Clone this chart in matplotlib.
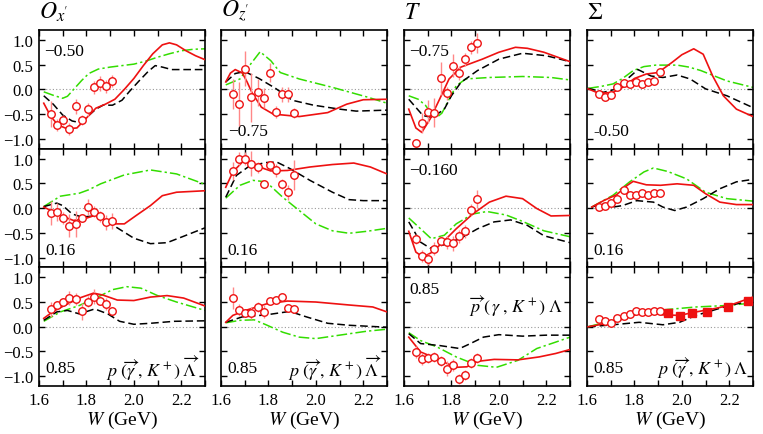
import matplotlib
matplotlib.use("Agg")
import matplotlib.pyplot as plt
import numpy as np

plt.rcParams['font.family'] = 'serif'
plt.rcParams['font.serif'] = ['Liberation Serif', 'DejaVu Serif']
plt.rcParams['mathtext.fontset'] = 'stix'

RED = '#ee1111'
ERR = '#ff8888'
GREEN = '#33dd00'

# photon energies W (GeV) of the measured points
w_a = [1.649, 1.677, 1.703, 1.728, 1.755, 1.780, 1.808, 1.833, 1.857, 1.883, 1.907]
w_sq = [1.943, 1.992, 2.042, 2.108, 2.196, 2.281]

# ---- Ox' ----
ox1_red = [(1.62, -0.28), (1.65, -0.55), (1.68, -0.72), (1.72, -0.80), (1.76, -0.78), (1.80, -0.58),
           (1.84, -0.38), (1.88, -0.30), (1.92, -0.20), (1.96, 0.0), (2.00, 0.22), (2.04, 0.48),
           (2.08, 0.72), (2.12, 0.90), (2.15, 0.94), (2.18, 0.90), (2.22, 0.78), (2.26, 0.68), (2.30, 0.60)]
ox1_blk = [(1.62, -0.13), (1.66, -0.30), (1.70, -0.52), (1.74, -0.64), (1.77, -0.67), (1.80, -0.57),
           (1.84, -0.40), (1.87, -0.32), (1.91, -0.32), (1.95, -0.22), (1.98, -0.05), (2.02, 0.16),
           (2.06, 0.36), (2.09, 0.48), (2.12, 0.45), (2.16, 0.40), (2.30, 0.40)]
ox1_grn = [(1.62, -0.05), (1.66, -0.12), (1.70, -0.18), (1.72, -0.14), (1.75, 0.02), (1.78, 0.18),
           (1.81, 0.32), (1.85, 0.41), (1.90, 0.45), (2.00, 0.51), (2.05, 0.57), (2.10, 0.65),
           (2.15, 0.72), (2.20, 0.78), (2.25, 0.81), (2.30, 0.82)]
ox1_y = [-0.50, -0.72, -0.62, -0.80, -0.34, -0.62, -0.40, 0.04, 0.12, 0.06, 0.17]
ox1_e = [0.27, 0.13, 0.10, 0.12, 0.15, 0.10, 0.13, 0.13, 0.15, 0.13, 0.13]

ox2_red = [(1.62, 0.02), (1.65, -0.05), (1.69, -0.15), (1.745, -0.25), (1.79, -0.22), (1.84, -0.14),
           (1.87, -0.22), (1.91, -0.32), (1.96, -0.32), (2.01, -0.15), (2.07, 0.05), (2.12, 0.25),
           (2.18, 0.32), (2.30, 0.35)]
ox2_blk = [(1.62, 0.03), (1.675, 0.10), (1.70, 0.05), (1.74, -0.12), (1.78, -0.18), (1.84, -0.16),
           (1.87, -0.22), (1.94, -0.43), (2.00, -0.61), (2.07, -0.72), (2.14, -0.70), (2.21, -0.57),
           (2.30, -0.40)]
ox2_grn = [(1.62, 0.03), (1.66, 0.15), (1.69, 0.24), (1.77, 0.30), (1.81, 0.37), (1.86, 0.49),
           (1.96, 0.67), (2.07, 0.77), (2.18, 0.69), (2.30, 0.48)]
ox2_y = [-0.10, -0.08, -0.20, -0.36, -0.32, -0.20, 0.02, -0.07, -0.17, -0.29, -0.26]
ox2_e = [0.25, 0.18, 0.12, 0.23, 0.27, 0.08, 0.17, 0.12, 0.12, 0.15, 0.17]

ox3_red = [(1.62, 0.17), (1.66, 0.31), (1.72, 0.46), (1.77, 0.58), (1.83, 0.68), (1.87, 0.64),
           (1.93, 0.54), (2.00, 0.53), (2.07, 0.60), (2.14, 0.63), (2.21, 0.58), (2.30, 0.42)]
ox3_blk = [(1.62, 0.13), (1.675, 0.30), (1.72, 0.33), (1.77, 0.26), (1.835, 0.36), (1.89, 0.26),
           (1.94, 0.11), (2.00, 0.05), (2.07, 0.07), (2.17, 0.11), (2.30, 0.12)]
ox3_grn = [(1.62, 0.11), (1.69, 0.30), (1.77, 0.43), (1.86, 0.63), (1.91, 0.75), (1.97, 0.81),
           (2.03, 0.78), (2.10, 0.63), (2.18, 0.50), (2.30, 0.33)]
ox3_y = [0.35, 0.43, 0.51, 0.58, 0.56, 0.31, 0.51, 0.61, 0.53, 0.46, 0.31]
ox3_e = [0.15, 0.10, 0.08, 0.15, 0.13, 0.17, 0.12, 0.15, 0.10, 0.13, 0.08]

# ---- Oz' ----
oz1_red = [(1.62, 0.15), (1.64, 0.33), (1.66, 0.40), (1.69, 0.33), (1.71, 0.15), (1.73, -0.06),
           (1.77, -0.36), (1.82, -0.50), (1.93, -0.55), (2.05, -0.47), (2.13, -0.30), (2.20, -0.21),
           (2.30, -0.20)]
oz1_blk = [(1.62, 0.15), (1.66, 0.32), (1.70, 0.36), (1.76, 0.22), (1.83, 0.02), (1.90, -0.22),
           (1.99, -0.32), (2.10, -0.40), (2.17, -0.44), (2.30, -0.42)]
oz1_grn = [(1.62, 0.09), (1.68, 0.21), (1.72, 0.48), (1.765, 0.76), (1.81, 0.58), (1.85, 0.34),
           (1.93, 0.21), (2.07, 0.04), (2.22, -0.16), (2.30, -0.28)]
oz1_y = [-0.10, -0.30, 0.42, -0.16, -0.06, -0.17, 0.34, -0.45, -0.10, -0.10, -0.47]
oz1_e = [0.30, 0.45, 0.35, 0.50, 0.27, 0.20, 0.20, 0.12, 0.15, 0.15, 0.10]

oz2_red = [(1.62, 0.42), (1.65, 0.73), (1.69, 0.93), (1.73, 0.90), (1.78, 0.80), (1.81, 0.75),
           (1.88, 0.76), (1.975, 0.83), (2.07, 0.88), (2.16, 0.91), (2.23, 0.83), (2.30, 0.69)]
oz2_blk = [(1.62, 0.22), (1.665, 0.66), (1.72, 0.85), (1.79, 0.92), (1.835, 0.93), (1.89, 0.80),
           (1.975, 0.56), (2.07, 0.32), (2.14, 0.17), (2.20, 0.15), (2.30, 0.15)]
oz2_grn = [(1.62, 0.20), (1.68, 0.46), (1.735, 0.56), (1.79, 0.53), (1.86, 0.22), (1.93, -0.05),
           (2.00, -0.32), (2.07, -0.46), (2.14, -0.51), (2.215, -0.47), (2.30, -0.41)]
oz2_y = [0.75, 1.00, 1.00, 0.90, 0.82, 0.49, 0.88, 0.76, 0.49, 0.32, 0.67]
oz2_e = [0.18, 0.13, 0.13, 0.25, 0.12, 0.07, 0.08, 0.13, 0.10, 0.15, 0.30]

oz3_red = [(1.62, 0.09), (1.65, 0.23), (1.71, 0.34), (1.79, 0.46), (1.88, 0.52), (2.00, 0.50),
           (2.14, 0.44), (2.24, 0.40), (2.30, 0.30)]
oz3_blk = [(1.62, 0.09), (1.69, 0.20), (1.79, 0.24), (1.89, 0.31), (1.96, 0.20), (2.05, 0.07),
           (2.14, 0.03), (2.30, -0.01)]
oz3_grn = [(1.62, 0.08), (1.68, 0.13), (1.74, 0.14), (1.79, 0.04), (1.86, -0.11), (1.93, -0.21),
           (2.00, -0.24), (2.10, -0.17), (2.215, -0.09), (2.30, -0.05)]
oz3_y = [0.58, 0.33, 0.28, 0.28, 0.40, 0.30, 0.52, 0.55, 0.60, 0.38, 0.35]
oz3_e = [0.22, 0.12, 0.08, 0.12, 0.10, 0.13, 0.07, 0.07, 0.07, 0.07, 0.07]

# ---- T ----
t1_red = [(1.62, -0.40), (1.65, -0.78), (1.675, -0.87), (1.71, -0.60), (1.75, -0.20), (1.79, 0.21),
          (1.84, 0.45), (1.93, 0.61), (2.00, 0.75), (2.07, 0.85), (2.12, 0.83), (2.19, 0.75),
          (2.30, 0.56)]
t1_blk = [(1.62, -0.20), (1.68, -0.53), (1.72, -0.57), (1.77, -0.40), (1.80, -0.13), (1.84, 0.14),
          (1.91, 0.38), (2.00, 0.61), (2.10, 0.73), (2.20, 0.68), (2.30, 0.56)]
t1_grn = [(1.62, -0.13), (1.66, -0.20), (1.69, -0.32), (1.72, -0.52), (1.74, -0.56), (1.76, -0.48),
          (1.79, -0.20), (1.82, 0.07), (1.86, 0.21), (1.96, 0.24), (2.10, 0.26), (2.22, 0.24),
          (2.30, 0.19)]
t1_y = [-1.09, -0.68, -0.45, -0.47, 0.22, -0.08, 0.48, 0.33, 0.61, 0.85, 0.94]
t1_e = [0.08, 0.20, 0.23, 0.30, 0.33, 0.13, 0.23, 0.15, 0.13, 0.13, 0.20]

t2_red = [(1.62, -0.47), (1.65, -0.89), (1.68, -0.99), (1.72, -0.89), (1.77, -0.66), (1.82, -0.42),
          (1.89, -0.12), (1.96, 0.12), (2.03, 0.24), (2.10, 0.19), (2.16, -0.01), (2.22, -0.16),
          (2.30, -0.15)]
t2_blk = [(1.62, -0.28), (1.67, -0.69), (1.71, -0.81), (1.77, -0.74), (1.84, -0.61), (1.91, -0.42),
          (1.98, -0.28), (2.05, -0.24), (2.12, -0.35), (2.19, -0.56), (2.30, -0.70)]
t2_grn = [(1.62, -0.20), (1.67, -0.42), (1.715, -0.62), (1.77, -0.55), (1.82, -0.32), (1.89, -0.12),
          (1.95, -0.07), (2.03, -0.14), (2.10, -0.27), (2.19, -0.46), (2.30, -0.58)]
t2_y = [-0.62, -0.97, -1.04, -0.82, -0.66, -0.69, -0.71, -0.57, -0.47, -0.03, 0.19]
t2_e = [0.10, 0.12, 0.12, 0.13, 0.10, 0.13, 0.15, 0.13, 0.13, 0.12, 0.18]

t3_red = [(1.62, -0.21), (1.67, -0.51), (1.72, -0.61), (1.78, -0.74), (1.82, -0.82), (1.865, -0.81),
          (1.91, -0.70), (1.98, -0.66), (2.08, -0.67), (2.17, -0.61), (2.24, -0.54), (2.30, -0.46)]
t3_blk = [(1.62, -0.14), (1.67, -0.34), (1.75, -0.38), (1.835, -0.44), (1.88, -0.34), (1.935, -0.21),
          (2.00, -0.16), (2.10, -0.19), (2.20, -0.17), (2.30, -0.17)]
t3_grn = [(1.62, -0.12), (1.67, -0.28), (1.74, -0.41), (1.82, -0.61), (1.91, -0.78), (1.99, -0.82),
          (2.08, -0.68), (2.16, -0.44), (2.24, -0.31), (2.30, -0.21)]
t3_y = [-0.51, -0.66, -0.63, -0.61, -0.70, -0.85, -0.78, -1.05, -0.98, -0.74, -0.63]
t3_e = [0.13, 0.12, 0.10, 0.10, 0.10, 0.15, 0.12, 0.10, 0.10, 0.10, 0.10]

# ---- Sigma ----
s1_red = [(1.605, 0.01), (1.65, -0.08), (1.71, -0.06), (1.75, 0.04), (1.80, 0.22), (1.85, 0.31),
          (1.90, 0.34), (1.96, 0.55), (2.00, 0.70), (2.05, 0.82), (2.09, 0.71), (2.13, 0.27),
          (2.175, -0.13), (2.23, -0.40), (2.30, -0.55)]
s1_blk = [(1.605, 0.02), (1.67, -0.06), (1.725, 0.01), (1.77, 0.21), (1.815, 0.40), (1.87, 0.27),
          (1.92, 0.24), (1.98, 0.29), (2.035, 0.21), (2.10, 0.01), (2.19, -0.13), (2.30, -0.37)]
s1_grn = [(1.605, 0.02), (1.66, 0.06), (1.71, 0.11), (1.75, 0.22), (1.795, 0.38), (1.84, 0.46),
          (1.89, 0.49), (1.98, 0.49), (2.03, 0.45), (2.08, 0.38), (2.19, 0.17), (2.30, 0.04)]
s1_y = [-0.10, -0.16, -0.12, 0.04, 0.13, 0.11, 0.14, 0.11, 0.15, 0.17, 0.36]
s1_e = [0.05] * 11

s2_red = [(1.62, 0.02), (1.67, 0.15), (1.725, 0.27), (1.77, 0.46), (1.795, 0.54), (1.85, 0.47),
          (1.91, 0.46), (1.98, 0.49), (2.05, 0.46), (2.10, 0.29), (2.16, 0.12), (2.23, 0.07), (2.30, 0.07)]
s2_blk = [(1.62, 0.02), (1.67, 0.09), (1.71, 0.02), (1.75, 0.05), (1.81, 0.15), (1.88, 0.12),
          (1.92, 0.02), (1.97, -0.05), (2.02, 0.02), (2.09, 0.19), (2.16, 0.39), (2.23, 0.53), (2.30, 0.58)]
s2_grn = [(1.62, 0.02), (1.71, 0.26), (1.78, 0.53), (1.84, 0.73), (1.88, 0.81), (1.94, 0.74),
          (2.02, 0.59), (2.10, 0.32), (2.19, 0.19), (2.30, 0.14)]
s2_y = [0.02, 0.05, 0.10, 0.19, 0.36, 0.27, 0.27, 0.30, 0.26, 0.30, 0.30]
s2_e = [0.05, 0.05, 0.05, 0.05, 0.08, 0.05, 0.05, 0.05, 0.05, 0.05, 0.05]

s3_red = [(1.605, 0.0), (1.71, 0.09), (1.795, 0.23), (1.85, 0.31), (1.92, 0.24), (1.99, 0.23),
          (2.06, 0.30), (2.13, 0.36), (2.20, 0.43), (2.30, 0.60)]
s3_blk = [(1.605, 0.0), (1.71, 0.04), (1.82, 0.09), (1.92, 0.04), (1.99, 0.09), (2.06, 0.23),
          (2.13, 0.33), (2.20, 0.43), (2.30, 0.53)]
s3_grn = [(1.605, 0.0), (1.71, 0.13), (1.82, 0.26), (1.94, 0.35), (2.06, 0.40), (2.19, 0.43), (2.30, 0.48)]
s3_y = [0.15, 0.11, 0.08, 0.17, 0.21, 0.26, 0.31, 0.30, 0.30, 0.31, 0.31]
s3_e = [0.04] * 11
s3_sq = [0.28, 0.22, 0.28, 0.30, 0.40, 0.52]

titles = [r"$O_{x\mathrm{'}}$", r"$O_{z\mathrm{'}}$", r"$T$", r"$\Sigma$"]
xticklabels = ['1.6', '', '1.8', '', '2.0', '', '2.2', '']
yticks = [-1.0, -0.5, 0.0, 0.5, 1.0]
yticklabels = ['\u22121.0', '\u22120.5', '0.0', '0.5', '1.0']

reac_a = r"$p\;(\overrightarrow{\gamma}\;,\,K^+)\;\overrightarrow{\Lambda}$"
reac_b = r"$\overrightarrow{p}\;(\,\gamma\;,\,K^+)\;\Lambda$"
reac_c = r"$p\;(\overrightarrow{\gamma}\;,\,K^+)\;\Lambda$"

# panel grid: rows = angle bins, cols = observables
grid = [
    [(ox1_red, ox1_blk, ox1_grn, ox1_y, ox1_e, '\u22120.50', 'tl'),
     (oz1_red, oz1_blk, oz1_grn, oz1_y, oz1_e, '\u22120.75', 'bl'),
     (t1_red, t1_blk, t1_grn, t1_y, t1_e, '\u22120.75', 'tl'),
     (s1_red, s1_blk, s1_grn, s1_y, s1_e, '-0.50', 'bl')],
    [(ox2_red, ox2_blk, ox2_grn, ox2_y, ox2_e, '0.16', 'bl'),
     (oz2_red, oz2_blk, oz2_grn, oz2_y, oz2_e, '0.16', 'bl'),
     (t2_red, t2_blk, t2_grn, t2_y, t2_e, '\u22120.160', 'tl'),
     (s2_red, s2_blk, s2_grn, s2_y, s2_e, '0.16', 'bl')],
    [(ox3_red, ox3_blk, ox3_grn, ox3_y, ox3_e, '0.85', 'bl'),
     (oz3_red, oz3_blk, oz3_grn, oz3_y, oz3_e, '0.85', 'bl'),
     (t3_red, t3_blk, t3_grn, t3_y, t3_e, '0.85', 'tl'),
     (s3_red, s3_blk, s3_grn, s3_y, s3_e, '0.85', 'bl')],
]
reactions = [reac_a, reac_a, reac_b, reac_c]

W, H = 763, 435
fig = plt.figure(figsize=(W / 100, H / 100), dpi=100)
lefts = [39, 221, 404, 587]
tops = [31, 149.7, 268.4]
pw, ph = 166, 118.7

for r in range(3):
    for c in range(4):
        red, blk, grn, ydat, edat, ann, pos = grid[r][c]
        ax = fig.add_axes([lefts[c] / W, 1 - (tops[r] + ph) / H, pw / W, ph / H])
        ax.axhline(0, color='#999999', lw=0.8, ls=(0, (1, 2)), zorder=1)
        ax.plot(*zip(*grn), color=GREEN, lw=1.1, ls=(0, (7, 2, 1.5, 2)), zorder=2)
        ax.plot(*zip(*blk), color='black', lw=1.1, ls=(0, (5, 2.5)), zorder=3)
        ax.plot(*zip(*red), color=RED, lw=1.2, zorder=4)
        ax.errorbar(w_a, ydat, yerr=edat, fmt='none', ecolor=ERR, elinewidth=1.0, zorder=5)
        ax.plot(w_a, ydat, 'o', ms=5.4, mfc='white', mec=RED, mew=1.0, zorder=6)
        if r == 2 and c == 3:
            ax.plot(w_sq, s3_sq, 's', ms=5.5, color=RED, zorder=6)
        ax.set_xlim(1.6, 2.3)
        ax.set_ylim(-1.2, 1.2)
        ax.set_xticks(np.arange(1.6, 2.35, 0.1))
        ax.set_yticks(yticks)
        ax.tick_params(direction='in', top=True, right=True, length=4.5, width=1.0, labelsize=12, pad=4)
        for s in ax.spines.values():
            s.set_linewidth(1.2)
        if c == 0:
            ax.set_yticklabels(yticklabels)
        else:
            ax.set_yticklabels([])
        if r == 2:
            ax.set_xticklabels(xticklabels)
            ax.set_xlabel(r"$W$ (GeV)", fontsize=14, labelpad=1)
        else:
            ax.set_xticklabels([])
        if pos == 'tl':
            ax.text(0.03, 0.82, ann, transform=ax.transAxes, fontsize=12.5, va='center', ha='left')
        else:
            ax.text(0.04, 0.15, ann, transform=ax.transAxes, fontsize=12.5, va='center', ha='left')
        if r == 0:
            ax.text(0.0, 1.06, titles[c], transform=ax.transAxes, fontsize=17, va='bottom', ha='left')
        if r == 2:
            if c == 2:
                ax.text(0.96, 0.68, reactions[c], transform=ax.transAxes, fontsize=13, va='center', ha='right')
            else:
                ax.text(0.97, 0.16, reactions[c], transform=ax.transAxes, fontsize=13, va='center', ha='right')

fig.savefig('out.png', dpi=100)
